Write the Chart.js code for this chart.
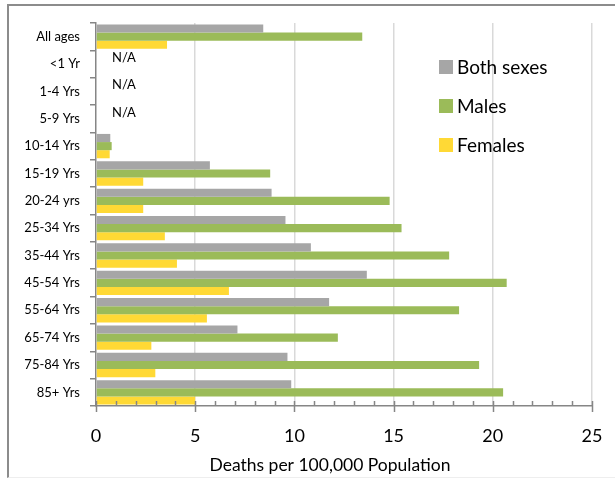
<!DOCTYPE html>
<html>
<head>
<meta charset="utf-8">
<script src="https://cdn.jsdelivr.net/npm/chart.js@4"></script>
<style>
  body { margin: 0; background: #fff; }
  #wrap { position: relative; width: 615px; height: 479px; }
  #frame { position: absolute; left: 7px; top: 4px; width: 620px; height: 471px;
           border-left: 2px solid #8c8c8c; border-top: 2px solid #8c8c8c; border-bottom: 1px solid #eeeeee; pointer-events: none; }
</style>
</head>
<body>
<div id="wrap">
  <canvas id="barchart" width="615" height="479"></canvas>
  <div id="frame"></div>
</div>
<script>
const ageGroups = ['All ages', '<1 Yr', '1-4 Yrs', '5-9 Yrs', '10-14 Yrs', '15-19 Yrs', '20-24 yrs',
                   '25-34 Yrs', '35-44 Yrs', '45-54 Yrs', '55-64 Yrs', '65-74 Yrs', '75-84 Yrs', '85+ Yrs'];
const bothSexes = [8.43, null, null, null, 0.72, 5.74, 8.85, 9.55, 10.83, 13.65, 11.75, 7.13, 9.65, 9.84];
const males     = [13.42, null, null, null, 0.79, 8.78, 14.8, 15.4, 17.8, 20.7, 18.3, 12.19, 19.31, 20.52];
const females   = [3.58, null, null, null, 0.69, 2.38, 2.38, 3.47, 4.08, 6.7, 5.59, 2.79, 2.99, 5.0];
const naLabels  = ['', 'N/A', 'N/A', 'N/A', '', '', '', '', '', '', '', '', '', ''];
const xTicks = [0, 5, 10, 15, 20, 25];
const xTitle = 'Deaths per 100,000 Population';

const font = 'Lato, "Open Sans", sans-serif';

// N/A notes, side legend, axis title and the little axis tick marks
const extras = {
    id: 'extras',
    afterDraw(chart) {
        const c = chart.ctx;
        const x = chart.scales.x;
        const meta = chart.getDatasetMeta(0);
        c.save();
        c.fillStyle = '#000';
        c.font = '13px ' + font;
        c.textBaseline = 'middle';
        c.textAlign = 'left';
        naLabels.forEach((t, i) => {
            if (!t) return;
            c.fillText(t, x.getPixelForValue(0) + 16, meta.data[i].y + 2);
        });

        // x tick marks: minor inside, major crossing
        c.strokeStyle = '#868686';
        c.lineWidth = 1.5;
        const yb = x.top;
        for (let v = x.min; v <= x.max; v++) {
            const px = Math.round(x.getPixelForValue(v)) + 0.5;
            const major = v % 5 === 0;
            c.beginPath();
            c.moveTo(px, yb - 5);
            c.lineTo(px, major ? yb + 6 : yb);
            c.stroke();
        }

        // axis title sits a bit left of the plot centre in the original
        c.font = '17.5px ' + font;
        c.textAlign = 'center';
        c.fillText(xTitle, 330, 465);

        // legend
        c.font = '19px ' + font;
        c.textAlign = 'left';
        chart.data.datasets.forEach((ds, i) => {
            const cy = 67 + i * 39;
            c.fillStyle = ds.backgroundColor;
            c.fillRect(439, cy - 7, 14, 14);
            c.fillStyle = '#000';
            c.fillText(ds.label, 457, cy + 1);
        });
        c.restore();
    }
};

const ctx = document.getElementById('barchart').getContext('2d');
const barchart = new Chart(ctx, {
    type: 'bar',
    data: {
        labels: ageGroups,
        datasets: [
            { label: 'Both sexes', data: bothSexes, backgroundColor: '#a6a6a6' },
            { label: 'Males', data: males, backgroundColor: '#9bbb59' },
            { label: 'Females', data: females, backgroundColor: '#ffd935' }
        ]
    },
    options: {
        indexAxis: 'y',
        responsive: false,
        animation: false,
        datasets: { bar: { categoryPercentage: 0.89, barPercentage: 1.0 } },
        layout: { padding: { top: 23, right: 23, bottom: 0, left: 0 } },
        scales: {
            x: {
                min: 0,
                max: 25,
                afterFit: (s) => { s.height = 73; s.paddingLeft = 0; s.paddingRight = 0; },
                afterBuildTicks: (s) => { s.ticks = []; for (let v = 0; v <= 25; v++) s.ticks.push({ value: v }); },
                grid: {
                    drawTicks: false,
                    color: (c) => xTicks.includes(c.tick.value) && c.tick.value > 0 ? '#d9d9d9' : 'rgba(0,0,0,0)',
                    lineWidth: 1.5
                },
                border: { color: '#868686', width: 1.5 },
                ticks: {
                    autoSkip: false,
                    maxRotation: 0,
                    padding: 19,
                    color: '#000',
                    font: { family: font, size: 18 },
                    callback: (v) => xTicks.includes(v) ? v : ''
                }
            },
            y: {
                afterFit: (s) => { s.width = 96; },
                grid: { offset: true, drawOnChartArea: false, tickLength: 6, color: '#868686', lineWidth: 1.5 },
                border: { color: '#868686', width: 1.5 },
                ticks: { padding: 10, color: '#000', font: { family: font, size: 13 } }
            }
        },
        plugins: {
            legend: { display: false },
            tooltip: { enabled: false }
        }
    },
    plugins: [extras]
});
</script>
</body>
</html>
